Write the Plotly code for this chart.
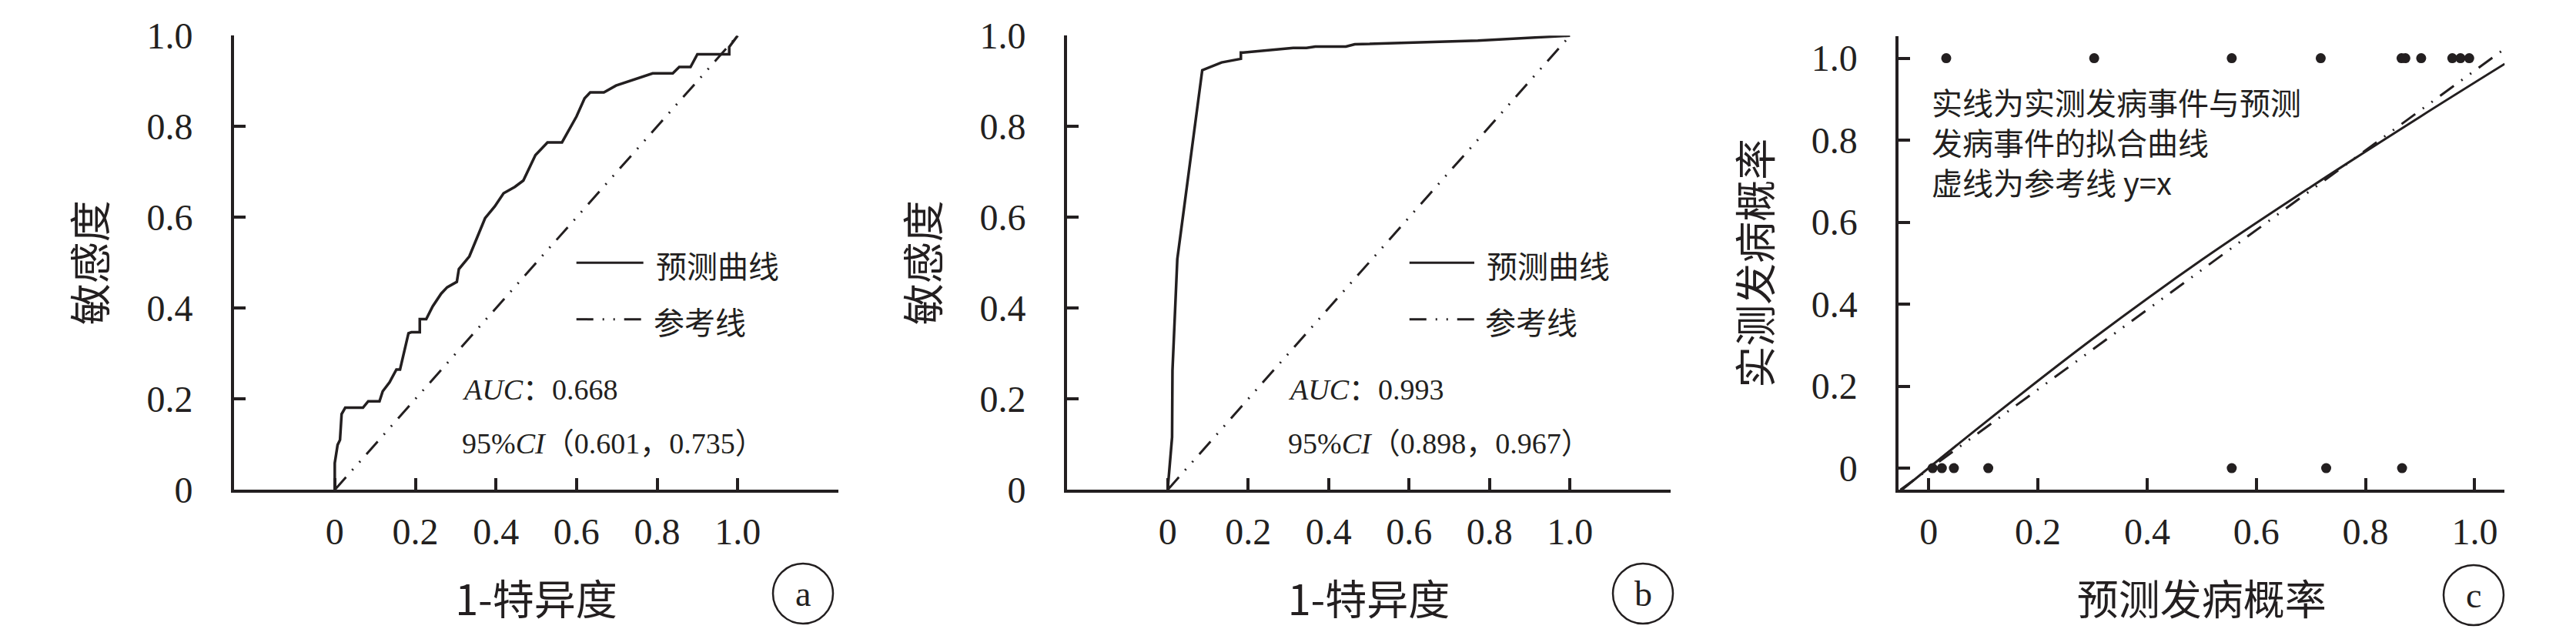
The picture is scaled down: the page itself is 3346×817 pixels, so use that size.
import plotly.graph_objects as go

# ---------------- data ----------------
# Panel a: ROC curve (1-specificity, sensitivity)
roc_a_fpr = [0.0, 0.0, 0.007, 0.013, 0.017, 0.026, 0.070, 0.083, 0.111, 0.119, 0.136, 0.153, 0.162,
             0.183, 0.190, 0.211, 0.211, 0.227, 0.243, 0.264, 0.279, 0.303, 0.308, 0.334, 0.373,
             0.397, 0.419, 0.447, 0.468, 0.498, 0.528, 0.564, 0.600, 0.620, 0.634, 0.668, 0.698,
             0.740, 0.789, 0.839, 0.855, 0.883, 0.900, 0.979, 0.979, 1.0]
roc_a_tpr = [0.0, 0.059, 0.099, 0.110, 0.167, 0.181, 0.181, 0.195, 0.195, 0.217, 0.237, 0.265, 0.265,
             0.345, 0.347, 0.347, 0.376, 0.376, 0.404, 0.432, 0.446, 0.458, 0.486, 0.514, 0.598,
             0.624, 0.653, 0.667, 0.681, 0.737, 0.765, 0.765, 0.822, 0.862, 0.875, 0.875, 0.890,
             0.903, 0.917, 0.917, 0.931, 0.931, 0.959, 0.959, 0.975, 1.0]

# Panel b: ROC curve
roc_b_fpr = [0.0, 0.011, 0.012, 0.024, 0.086, 0.134, 0.182, 0.182, 0.188, 0.312, 0.345, 0.367,
             0.443, 0.465, 0.771, 1.0]
roc_b_tpr = [0.0, 0.116, 0.263, 0.508, 0.924, 0.941, 0.949, 0.963, 0.963, 0.973, 0.973, 0.976,
             0.976, 0.981, 0.989, 1.0]

# Reference diagonal for ROC panels
ref_x = [0.0, 1.0]
ref_y = [0.0, 1.0]

# Panel c: calibration
obs_event_x = [0.032, 0.303, 0.555, 0.718, 0.866, 0.873, 0.902, 0.959, 0.974, 0.990]
obs_event_y = [1, 1, 1, 1, 1, 1, 1, 1, 1, 1]
obs_none_x = [0.007, 0.024, 0.046, 0.109, 0.555, 0.728, 0.867]
obs_none_y = [0, 0, 0, 0, 0, 0, 0]
fit_x = [-0.052, 0.1, 0.3, 0.5, 0.7, 0.9, 1.055]
fit_y = [-0.056, 0.108, 0.315, 0.508, 0.686, 0.857, 0.986]
calref_x = [-0.052, 1.052]
calref_y = [-0.053, 1.02]

tick_vals = [0, 0.2, 0.4, 0.6, 0.8, 1.0]
tick_text = ["0", "0.2", "0.4", "0.6", "0.8", "1.0"]

auc_a = "<i>AUC</i>：0.668"
ci_a = "95%<i>CI</i>（0.601，0.735）"
auc_b = "<i>AUC</i>：0.993"
ci_b = "95%<i>CI</i>（0.898，0.967）"
note_c = ["实线为实测发病事件与预测", "发病事件的拟合曲线", "虚线为参考线 y=x"]

# ---------------- styling ----------------
W, H = 3346, 817
INK = "#231f20"
SERIF = "Liberation Serif, Noto Sans CJK SC, serif"
CJK = "Noto Sans CJK SC, Liberation Serif, sans-serif"
DASH = "22px,12px,2px,12px,2px,12px"


def px_x(a, b):
    return [a / W, b / W]


def px_y(top, bottom):
    return [(H - bottom) / H, (H - top) / H]


fig = go.Figure()

# panel a
fig.add_trace(go.Scatter(x=roc_a_fpr, y=roc_a_tpr, mode="lines", line=dict(color=INK, width=3.5),
                         xaxis="x", yaxis="y", name="预测曲线"))
fig.add_trace(go.Scatter(x=ref_x, y=ref_y, mode="lines", line=dict(color=INK, width=3, dash=DASH),
                         xaxis="x", yaxis="y", name="参考线"))
# panel b
fig.add_trace(go.Scatter(x=roc_b_fpr, y=roc_b_tpr, mode="lines", line=dict(color=INK, width=3.5),
                         xaxis="x2", yaxis="y2", name="预测曲线"))
fig.add_trace(go.Scatter(x=ref_x, y=ref_y, mode="lines", line=dict(color=INK, width=3, dash=DASH),
                         xaxis="x2", yaxis="y2", name="参考线"))
# panel c
fig.add_trace(go.Scatter(x=calref_x, y=calref_y, mode="lines", line=dict(color=INK, width=3, dash=DASH),
                         xaxis="x3", yaxis="y3", name="参考线"))
fig.add_trace(go.Scatter(x=fit_x, y=fit_y, mode="lines", line=dict(color=INK, width=3, shape="spline"),
                         xaxis="x3", yaxis="y3", name="拟合曲线"))
fig.add_trace(go.Scatter(x=obs_event_x, y=obs_event_y, mode="markers",
                         marker=dict(color=INK, size=13), xaxis="x3", yaxis="y3", name="发病"))
fig.add_trace(go.Scatter(x=obs_none_x, y=obs_none_y, mode="markers",
                         marker=dict(color=INK, size=13), xaxis="x3", yaxis="y3", name="未发病"))


def axis_common(title, ticklabelstandoff, standoff):
    return dict(
        showline=True, linewidth=4, linecolor=INK, ticks="inside", ticklen=15, tickwidth=4,
        tickcolor=INK, tickvals=tick_vals, ticktext=tick_text, showgrid=False, zeroline=False,
        tickfont=dict(family=SERIF, size=48, color=INK), ticklabelstandoff=ticklabelstandoff,
        title=dict(text=title, font=dict(family=CJK, size=54, color=INK), standoff=standoff),
        automargin=False, fixedrange=True,
    )


ydom_ab = px_y(38.3, 628.3)
ydom_c = px_y(39.3, 628.3)
XSTD, XTIT = 9, 46
YSTD, YTIT = 40, 35

fig.update_layout(
    width=W, height=H, margin=dict(l=0, r=0, t=0, b=0),
    paper_bgcolor="white", plot_bgcolor="white", showlegend=False,
    xaxis=dict(domain=px_x(296, 1081), range=[-0.25, 1.25], anchor="y",
               **axis_common("1-特异度", XSTD, XTIT)),
    yaxis=dict(domain=ydom_ab, range=[0, 1], anchor="x", **axis_common("敏感度", YSTD, YTIT)),
    xaxis2=dict(domain=px_x(1378, 2162), range=[-0.25, 1.25], anchor="y2",
                **axis_common("1-特异度", XSTD, XTIT)),
    yaxis2=dict(domain=ydom_ab, range=[0, 1], anchor="x2", **axis_common("敏感度", YSTD, YTIT)),
    xaxis3=dict(domain=px_x(2458.3, 3245.4), range=[-0.055, 1.055], anchor="y3",
                **axis_common("预测发病概率", XSTD, XTIT)),
    yaxis3=dict(domain=ydom_c, range=[-0.053, 1.053], anchor="x3",
                **axis_common("实测发病概率", YSTD, YTIT)),
)

# legends (drawn manually, as in the original figure)
for xr, yr, lx0, lx1, tx in [("x", "y", 0.5665, 0.6773, 0.695),
                             ("x2", "y2", 0.5673, 0.6747, 0.6926)]:
    fig.add_shape(type="line", xref=xr + " domain", yref=yr + " domain", x0=lx0, x1=lx1, y0=0.5, y1=0.5,
                  line=dict(color=INK, width=3))
    fig.add_shape(type="line", xref=xr + " domain", yref=yr + " domain", x0=lx0, x1=lx1, y0=0.3756,
                  y1=0.3756, line=dict(color=INK, width=3, dash=DASH))
    fig.add_annotation(xref=xr + " domain", yref=yr + " domain", x=tx, y=0.4954, text="预测曲线",
                       showarrow=False, xanchor="left", yanchor="middle",
                       font=dict(family=CJK, size=40, color=INK))
    fig.add_annotation(xref=xr + " domain", yref=yr + " domain", x=tx - 0.003, y=0.371, text="参考线",
                       showarrow=False, xanchor="left", yanchor="middle",
                       font=dict(family=CJK, size=40, color=INK))

for xr, yr, axl, t1, t2 in [("x", "y", 0.374, auc_a, ci_a), ("x2", "y2", 0.363, auc_b, ci_b)]:
    fig.add_annotation(xref=xr + " domain", yref=yr + " domain", x=axl, y=0.2203, text=t1,
                       showarrow=False, xanchor="left", yanchor="middle",
                       font=dict(family=SERIF, size=38, color=INK))
    fig.add_annotation(xref=xr + " domain", yref=yr + " domain", x=axl, y=0.1017, text=t2,
                       showarrow=False, xanchor="left", yanchor="middle",
                       font=dict(family=SERIF, size=38, color=INK))

fig.add_annotation(xref="x3 domain", yref="y3 domain", x=0.0512, y=0.7683, text="<br>".join(note_c),
                   showarrow=False, xanchor="left", yanchor="middle", align="left",
                   font=dict(family=CJK, size=40, color=INK))

# panel letters in circles
for cx, cy, letter in [(1035, 763, "a"), (2126, 763, "b"), (3205, 765, "c")]:
    r = 39
    fig.add_shape(type="circle", xref="paper", yref="paper",
                  x0=(cx - r) / W, x1=(cx + r) / W, y0=(H - cy - r) / H, y1=(H - cy + r) / H,
                  line=dict(color=INK, width=2.5))
    fig.add_annotation(xref="paper", yref="paper", x=cx / W, y=(H - cy) / H, text=letter,
                       showarrow=False, xanchor="center", yanchor="middle",
                       font=dict(family=SERIF, size=46, color=INK))

fig.write_html("out.html")
